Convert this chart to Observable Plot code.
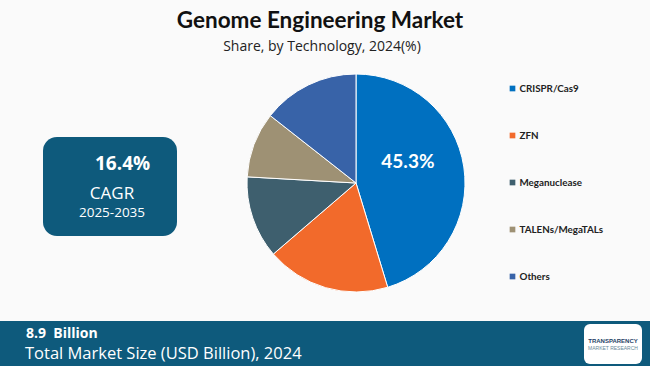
<!DOCTYPE html>
<html>
<head>
<meta charset="utf-8">
<script src="https://cdn.jsdelivr.net/npm/d3@7"></script>
<script src="https://cdn.jsdelivr.net/npm/@observablehq/plot@0.6"></script>
<style>
  html, body { margin: 0; padding: 0; background: #fafafa; }
  #wrap { position: relative; width: 650px; height: 366px; overflow: hidden; background: #fafafa; font-family: "Open Sans", sans-serif; }
  #title { position: absolute; left: 0; top: 6px; width: 640px; text-align: center; font-family: Lato, sans-serif; font-weight: 700; font-size: 22.5px; color: #111; }
  #subtitle { position: absolute; left: 0; top: 36px; width: 644px; text-align: center; font-size: 14px; color: #222; }
  #chart { position: absolute; left: 0; top: 60px; }
  #cagr { position: absolute; left: 43px; top: 137px; width: 134px; height: 99px; border-radius: 14px; background: #0e5a7c; color: #fff; }
  #cagr .v { position: absolute; left: 52px; top: 13px; font-weight: 700; font-size: 19px; }
  #cagr .l { position: absolute; left: 0; width: 138px; top: 44px; text-align: center; font-size: 17px; }
  #cagr .y { position: absolute; left: 0; width: 138px; top: 66px; text-align: center; font-size: 13.5px; }
  #bar { position: absolute; left: 0; top: 321px; width: 650px; height: 45px; background: #0e5a7c; color: #fff; }
  #bar .v { position: absolute; left: 26px; top: 3px; font-weight: 700; font-size: 14px; line-height: 17px; }
  #bar .t { position: absolute; left: 25px; top: 21px; font-size: 16.5px; line-height: 21px; }
  #logo { position: absolute; left: 584px; top: 3px; width: 58px; height: 40px; background: #fff; border-radius: 6px; }
  #logo .a { position: absolute; left: 0; width: 58px; top: 14px; text-align: center; font-size: 6px; font-weight: 700; color: #1f3f66; font-family: "Liberation Sans", sans-serif; }
  #logo .b { position: absolute; left: 0; width: 58px; top: 21px; text-align: center; font-size: 5px; color: #6a8a9a; font-family: "Liberation Sans", sans-serif; }
</style>
</head>
<body>
<div id="wrap">
  <div id="title">Genome Engineering Market</div>
  <div id="subtitle">Share, by Technology, 2024(%)</div>
  <div id="chart"></div>
  <div id="cagr"><div class="v">16.4%</div><div class="l">CAGR</div><div class="y">2025-2035</div></div>
  <div id="bar">
    <div class="v">8.9&nbsp; Billion</div>
    <div class="t">Total Market Size (USD Billion), 2024</div>
    <div id="logo"><div class="a">TRANSPARENCY</div><div class="b">MARKET RESEARCH</div></div>
  </div>
</div>
<script>
const technologies = ["CRISPR/Cas9", "ZFN", "Meganuclease", "TALENs/MegaTALs", "Others"];
const shares = [45.3, 18.4, 12.2, 9.7, 14.4];
const colors = ["#0070c0", "#f26a2b", "#3e5f6e", "#9e9174", "#3863a8"];
const labelled = ["CRISPR/Cas9"];

const data = technologies.map((t, i) => ({tech: t, share: shares[i]}));

function pieMark(index, scales, values, dimensions) {
  const cx = 356, cy = 123, r = 109;
  const arcs = d3.pie().sort(null).value(d => d.share)(data);
  const arc = d3.arc().innerRadius(0).outerRadius(r);
  const g = d3.create("svg:g").attr("transform", `translate(${cx},${cy})`);
  g.selectAll("path").data(arcs).join("path")
    .attr("d", arc)
    .attr("fill", d => scales.color(d.data.tech))
    .attr("stroke", "#ffffff")
    .attr("stroke-width", 1);
  g.selectAll("text").data(arcs.filter(a => labelled.includes(a.data.tech))).join("text")
    .attr("x", d => arc.centroid(d)[0] - 2)
    .attr("y", d => arc.centroid(d)[1] - 12)
    .attr("text-anchor", "middle")
    .attr("dominant-baseline", "middle")
    .attr("fill", "#fff")
    .attr("font-weight", "700")
    .attr("font-size", 19)
    .attr("font-family", "Lato, sans-serif")
    .text(d => d.data.share.toFixed(1) + "%");
  return g.node();
}

const chart = Plot.plot({
  width: 650,
  height: 260,
  marginLeft: 512,
  marginRight: 10,
  marginTop: 28,
  marginBottom: 44,
  style: {background: "transparent", fontFamily: "Lato, sans-serif"},
  y: {type: "point", domain: technologies, padding: 0, axis: null},
  color: {domain: technologies, range: colors},
  marks: [
    pieMark,
    Plot.dot(data, {y: "tech", fill: "tech", symbol: "square", r: 3.2, frameAnchor: "left"}),
    Plot.text(data, {y: "tech", text: "tech", frameAnchor: "left", dx: 7, textAnchor: "start", fontWeight: "bold", fontSize: 9.8, fill: "#222"})
  ]
});
document.getElementById("chart").appendChild(chart);
</script>
</body>
</html>
